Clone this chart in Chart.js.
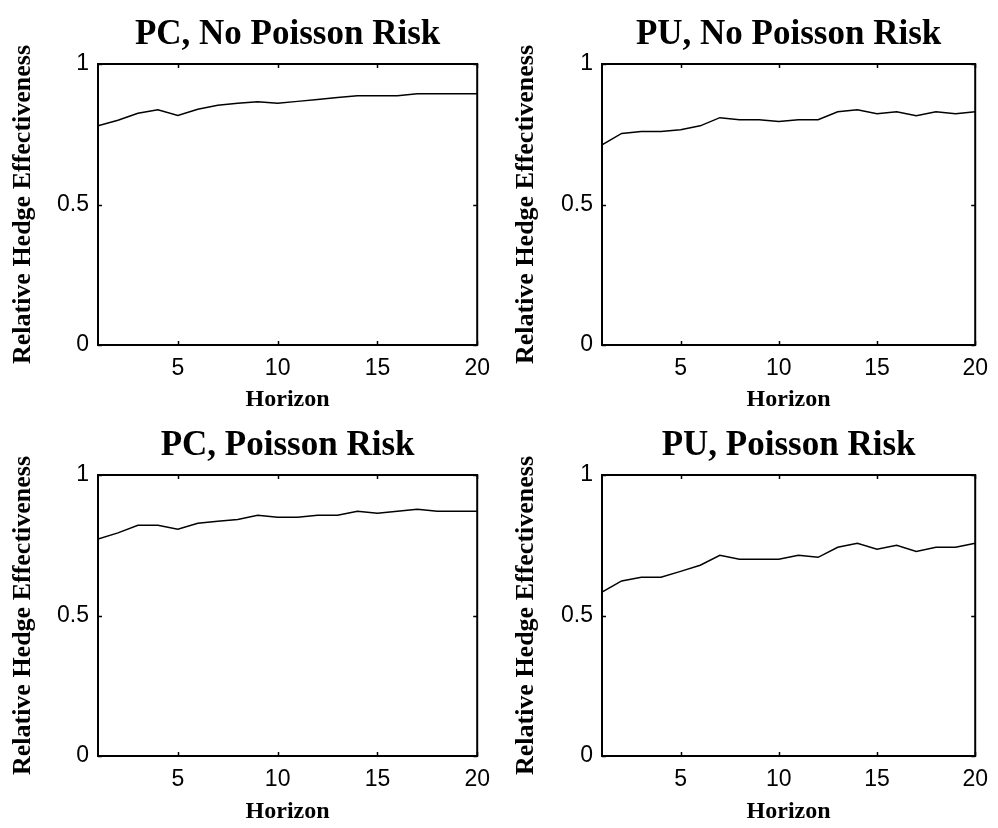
<!DOCTYPE html>
<html>
<head>
<meta charset="utf-8">
<script src="https://cdn.jsdelivr.net/npm/chart.js@4.4.1/dist/chart.umd.min.js"></script>
<style>
  body { margin: 0; background: #fff; }
  #wrap { position: relative; width: 998px; height: 828px; overflow: hidden; }
  canvas { position: absolute; }
</style>
</head>
<body>
<div id="wrap">
  <canvas id="pcNo" width="500" height="414" style="left:0;top:0"></canvas>
  <canvas id="puNo" width="498" height="414" style="left:500px;top:0"></canvas>
  <canvas id="pcYes" width="500" height="417" style="left:0;top:411px"></canvas>
  <canvas id="puYes" width="498" height="417" style="left:500px;top:411px"></canvas>
</div>
<script>
// horizons 1..20
const horizon = [1, 2, 3, 4, 5, 6, 7, 8, 9, 10, 11, 12, 13, 14, 15, 16, 17, 18, 19, 20];

// relative hedge effectiveness
const pcNoPoisson = [0.780, 0.800, 0.825, 0.837, 0.817, 0.839, 0.853, 0.860, 0.866, 0.860,
                     0.867, 0.874, 0.881, 0.887, 0.887, 0.887, 0.894, 0.894, 0.894, 0.894];
const puNoPoisson = [0.712, 0.753, 0.760, 0.760, 0.766, 0.780, 0.809, 0.802, 0.802, 0.795,
                     0.802, 0.802, 0.830, 0.837, 0.823, 0.830, 0.816, 0.830, 0.823, 0.830];
const pcPoisson   = [0.772, 0.794, 0.821, 0.821, 0.807, 0.828, 0.835, 0.842, 0.857, 0.850,
                     0.850, 0.857, 0.857, 0.871, 0.864, 0.871, 0.878, 0.871, 0.871, 0.871];
const puPoisson   = [0.583, 0.623, 0.636, 0.636, 0.657, 0.679, 0.714, 0.700, 0.700, 0.700,
                     0.714, 0.707, 0.743, 0.757, 0.736, 0.750, 0.728, 0.743, 0.743, 0.757];

const xTicks = [5, 10, 15, 20];
const yTicks = [0, 0.5, 1];
const yTickLabels = ['0', '0.5', '1'];

const serif = "'Liberation Serif', 'Times New Roman', serif";
const sans = "'Liberation Sans', Arial, sans-serif";

// matlab style box with inward ticks
const boxPlugin = {
  id: 'matlabBox',
  afterDatasetsDraw(chart) {
    const { ctx, chartArea: a, scales: { x, y } } = chart;
    ctx.save();
    ctx.strokeStyle = '#000';
    ctx.lineWidth = 1.5;
    ctx.beginPath();
    xTicks.forEach(v => {
      const px = Math.round(x.getPixelForValue(v)) + 0.5;
      ctx.moveTo(px, a.bottom); ctx.lineTo(px, a.bottom - 4);
      ctx.moveTo(px, a.top); ctx.lineTo(px, a.top + 4);
    });
    yTicks.forEach(v => {
      const py = Math.round(y.getPixelForValue(v)) + 0.5;
      ctx.moveTo(a.left, py); ctx.lineTo(a.left + 4, py);
      ctx.moveTo(a.right, py); ctx.lineTo(a.right - 4, py);
    });
    ctx.stroke();
    ctx.lineWidth = 2;
    ctx.strokeRect(a.left, a.top, a.right - a.left, a.bottom - a.top);
    ctx.restore();
  }
};

function makePanel(id, title, values, yWidth, padRight, yTitlePad, xHeight, xTitlePad) {
  return new Chart(document.getElementById(id), {
    type: 'line',
    data: {
      labels: horizon,
      datasets: [{
        data: values,
        borderColor: '#000',
        borderWidth: 1.5,
        pointRadius: 0,
        tension: 0,
        fill: false
      }]
    },
    options: {
      responsive: false,
      animation: false,
      layout: { padding: { left: 0, right: padRight, top: 0, bottom: 0 } },
      plugins: {
        legend: { display: false },
        tooltip: { enabled: false },
        title: {
          display: true,
          text: title,
          fullSize: false,
          color: '#000',
          font: { family: serif, size: 35, weight: 'bold', lineHeight: 1.2 },
          padding: { top: 14, bottom: 8 }
        }
      },
      scales: {
        x: {
          type: 'linear',
          min: 1,
          max: 20,
          afterBuildTicks: s => { s.ticks = xTicks.map(v => ({ value: v })); },
          afterFit: s => { s.height = xHeight; },
          grid: { display: false, drawTicks: false },
          border: { display: false },
          ticks: {
            color: '#000', padding: 10, maxRotation: 0, autoSkip: false,
            font: { family: sans, size: 23 }
          },
          title: {
            display: true, text: 'Horizon', color: '#000',
            font: { family: serif, size: 24, weight: 'bold', lineHeight: 1.2 },
            padding: { top: 0, bottom: xTitlePad }
          }
        },
        y: {
          min: 0,
          max: 1,
          afterBuildTicks: s => { s.ticks = yTicks.map(v => ({ value: v })); },
          afterFit: s => { s.width = yWidth; },
          grid: { display: false, drawTicks: false },
          border: { display: false },
          ticks: {
            color: '#000', padding: 9, autoSkip: false,
            font: { family: sans, size: 23 },
            callback: v => yTickLabels[yTicks.indexOf(v)]
          },
          title: {
            display: true, text: 'Relative Hedge Effectiveness', color: '#000',
            font: { family: serif, size: 26, weight: 'bold', lineHeight: 1.2 },
            padding: { top: yTitlePad, bottom: 0 }
          }
        }
      }
    },
    plugins: [boxPlugin]
  });
}

makePanel('pcNo', 'PC, No Poisson Risk', pcNoPoisson, 98, 21, 8, 69, 0);
makePanel('puNo', 'PU, No Poisson Risk', puNoPoisson, 102, 15, 11, 69, 0);
makePanel('pcYes', 'PC, Poisson Risk', pcPoisson, 98, 21, 8, 72, 2);
makePanel('puYes', 'PU, Poisson Risk', puPoisson, 102, 15, 11, 72, 2);
</script>
</body>
</html>
